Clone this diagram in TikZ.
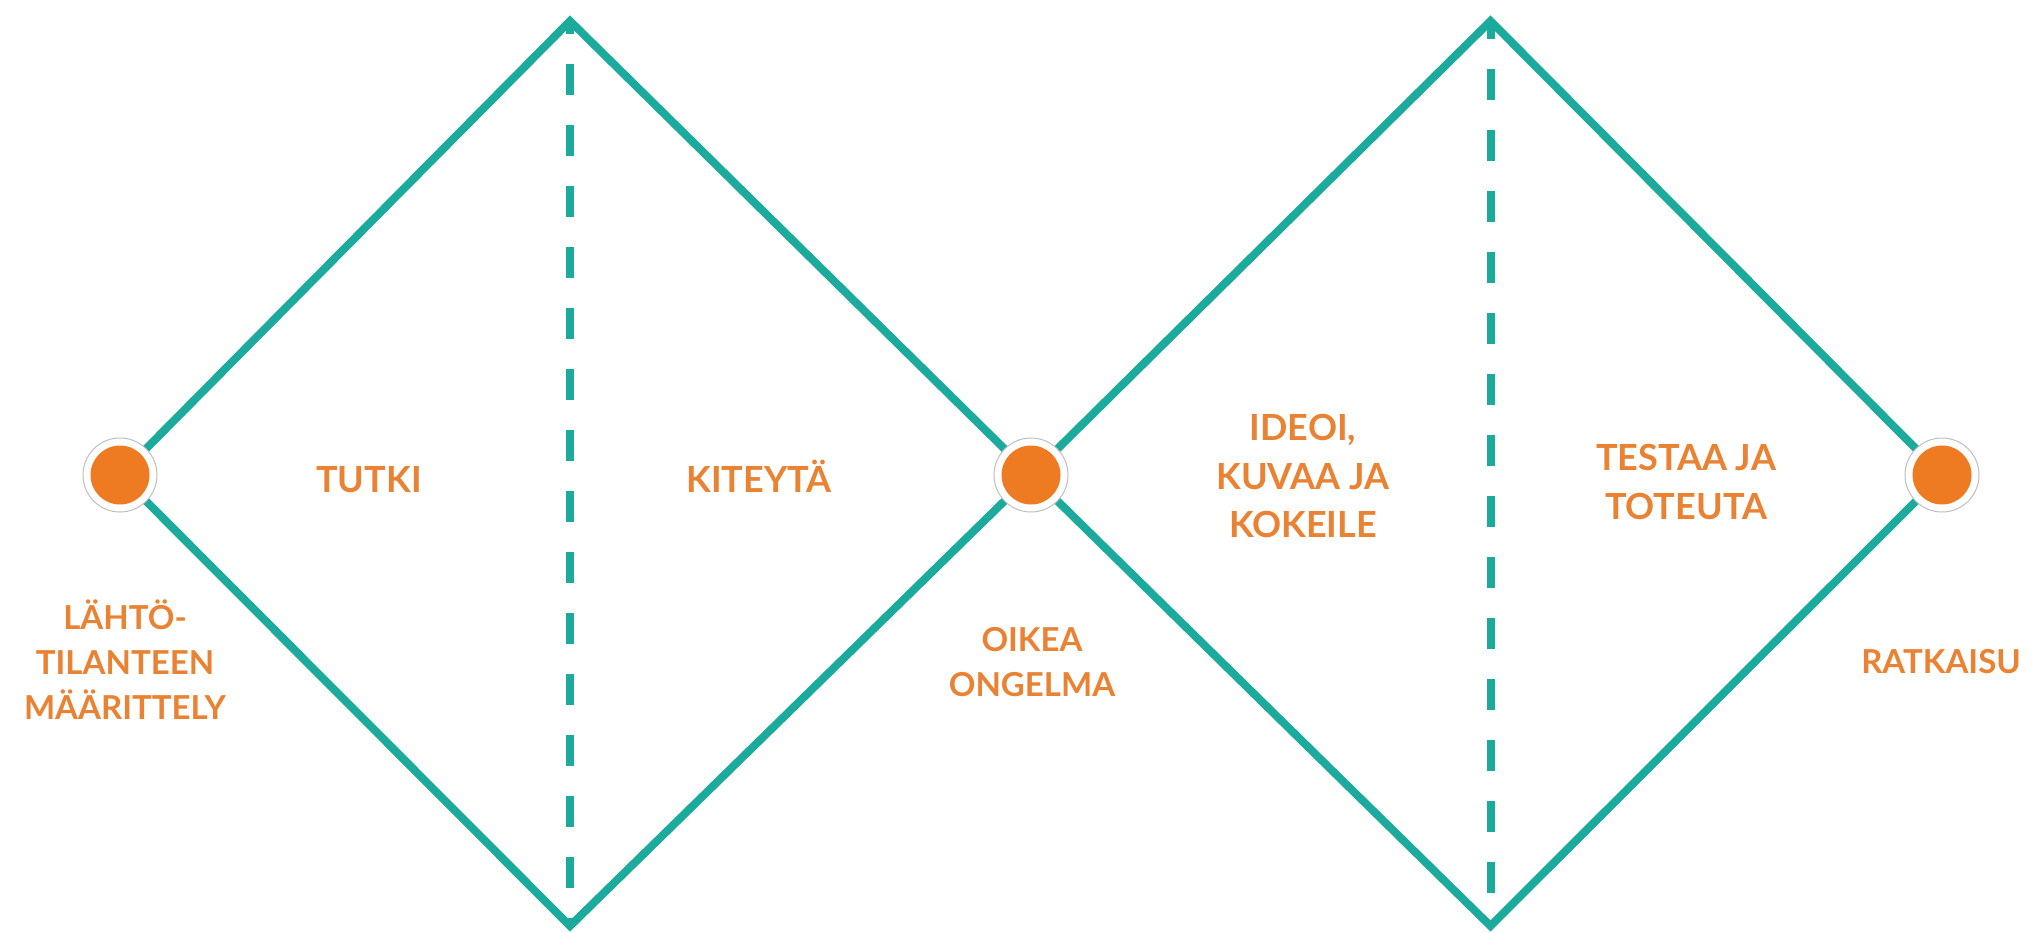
\documentclass[tikz,border=0pt]{standalone}
\usepackage{fontspec}
\setmainfont{Lato}
\definecolor{tealline}{HTML}{1BAA9B}
\definecolor{dotorange}{HTML}{EE7B22}
\definecolor{textorange}{HTML}{EA8234}
\pgfdeclarelayer{bg}
\pgfsetlayers{bg,main}
\begin{document}
\begin{tikzpicture}[x=1pt,y=-1pt,
  edge/.style={draw=tealline,line width=8pt,line join=miter,miter limit=10},
  divider/.style={draw=tealline,line width=8pt,line cap=butt},
  stage/.style={circle,minimum size=74pt,inner sep=0pt,fill=white,draw=black!25,line width=1pt,
    path picture={\fill[dotorange] (path picture bounding box.center) circle (29.5pt);}},
  biglab/.style={text=textorange,font=\bfseries\fontsize{36}{48.5}\selectfont,align=center,inner sep=0pt},
  smalllab/.style={text=textorange,font=\bfseries\fontsize{33}{45}\selectfont,align=center,inner sep=0pt}]
\useasboundingbox (0,0) rectangle (2031,933);
% stage points
\node[stage] (L) at (120,475) {};
\node[stage] (M) at (1031,475) {};
\node[stage] (R) at (1942,475) {};
\coordinate (T1) at (570,21);
\coordinate (B1) at (570,926);
\coordinate (T2) at (1490.5,21);
\coordinate (B2) at (1490.5,926);
\begin{pgfonlayer}{bg}
  \fill[white] (0,0) rectangle (2031,933);
  \draw[edge] (L.center) -- (T1) -- (M.center) -- (B1) -- cycle;
  \draw[edge] (M.center) -- (T2) -- (R.center) -- (B2) -- cycle;
  \draw[divider,dash pattern=on 31pt off 30pt,dash phase=18pt] (T1) -- (B1);
  \draw[divider,dash pattern=on 31pt off 30pt,dash phase=13pt] (T2) -- (B2);
\end{pgfonlayer}
% labels
\node[biglab,anchor=base] (tutki) at (369,492) {TUTKI};
\node[biglab,anchor=base] (kiteyta) at (759,492) {KITEYTÄ};
\node[biglab] (ideoi) at (1303,476) {IDEOI,\\KUVAA JA\\KOKEILE};
\node[biglab] (testaa) at (1686,482) {TESTAA JA\\TOTEUTA};
\node[smalllab] (lahto) at (125,660) {LÄHTÖ-\\TILANTEEN\\MÄÄRITTELY};
\node[smalllab] (oikea) at (1032,662) {OIKEA\\ONGELMA};
\node[smalllab,anchor=base] (ratkaisu) at (1941,673) {RATKAISU};
\end{tikzpicture}
\end{document}
